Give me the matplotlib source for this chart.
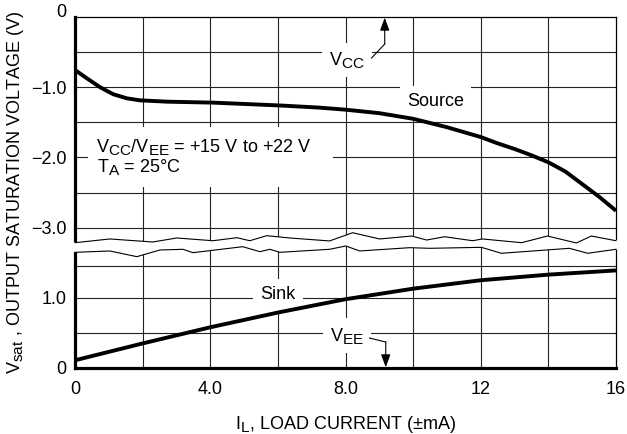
import numpy as np
import matplotlib.pyplot as plt
import matplotlib._mathtext as mathtext
from matplotlib.patches import Rectangle

# subscripts on the datasheet are almost full size
mathtext.SHRINK_FACTOR = 0.85

plt.rcParams['font.family'] = ['Liberation Sans', 'DejaVu Sans']
plt.rcParams['mathtext.fontset'] = 'custom'
plt.rcParams['mathtext.rm'] = 'Liberation Sans'
plt.rcParams['mathtext.it'] = 'Liberation Sans:italic'
plt.rcParams['mathtext.bf'] = 'Liberation Sans:bold'
plt.rcParams['font.size'] = 13

# source curve, volts referred to VCC (upper window)
i_source = [0, 0.35, 0.74, 1.13, 1.53, 1.92, 2.71, 4.09, 6.05, 7.2, 8.0, 9.0, 10.0, 11.0, 12.0,
            12.5, 13.0, 13.5, 14.0, 14.5, 15.0, 15.5, 16.0]
v_source = [-0.755, -0.873, -1.0, -1.10, -1.158, -1.187, -1.206, -1.22, -1.26, -1.29, -1.32, -1.37,
            -1.45, -1.57, -1.71, -1.80, -1.88, -1.97, -2.07, -2.20, -2.38, -2.56, -2.76]

# sink curve, volts referred to VEE (lower window)
i_sink = [0, 2.0, 4.0, 6.0, 8.0, 10.0, 12.0, 14.0, 16.0]
v_sink = [0.11, 0.35, 0.58, 0.79, 0.98, 1.13, 1.25, 1.33, 1.39]

# the lower window is drawn 5 V below the upper one on the same axes
shift = 5.0

x_ticks = [0, 4, 8, 12, 16]
x_labels = ['0', '4.0', '8.0', '12', '16']
y_ticks = [0, -1, -2, -3, 1 - shift, 0 - shift]
y_labels = ['0', '\u22121.0', '\u22122.0', '\u22123.0', '1.0', '0']

x_grid = [2, 4, 6, 8, 10, 12, 14]
top_grid = [-0.5, -1.0, -1.5, -2.0, -2.5, -3.0]
sink_grid = [0.5, 1.0, 1.45]

# hand drawn axis break (two jagged lines)
brk_top_i = [0, 1.03, 2.30, 3.01, 4.08, 4.79, 5.17, 5.67, 6.35, 7.53, 8.21, 9.01, 9.96, 10.40, 10.93, 11.76, 12.05, 13.21, 13.97, 14.83, 15.27, 16.0]
brk_top_v = [-3.215, -3.162, -3.205, -3.148, -3.187, -3.144, -3.187, -3.115, -3.148, -3.19, -3.073, -3.162, -3.12, -3.177, -3.13, -3.187, -3.162, -3.215, -3.12, -3.219, -3.12, -3.187]
brk_bot_i = [0, 1.03, 1.83, 2.51, 3.19, 3.49, 4.96, 5.47, 5.76, 6.06, 7.53, 8.01, 8.42, 9.90, 10.49, 12.02, 12.61, 14.62, 15.16, 16.0]
brk_bot_v = [-3.352, -3.333, -3.414, -3.319, -3.309, -3.357, -3.272, -3.343, -3.309, -3.352, -3.309, -3.262, -3.333, -3.286, -3.295, -3.281, -3.366, -3.295, -3.366, -3.309]

fig = plt.figure(figsize=(6.27, 4.34), dpi=100)
ax = fig.add_axes([75 / 627, 1 - 368 / 434, 541 / 627, 351 / 434])
ax.set_xlim(0, 16)
ax.set_ylim(-shift, 0)

gkw = dict(color='#222222', lw=0.8, zorder=1)
for x in x_grid:
    ax.axvline(x, **gkw)
for y in top_grid:
    ax.axhline(y, **gkw)
for y in sink_grid:
    ax.axhline(y - shift, **gkw)

for side in ['left', 'bottom']:
    ax.spines[side].set_linewidth(2.3)
for side in ['top', 'right']:
    ax.spines[side].set_linewidth(0.9)

ax.set_xticks(x_ticks)
ax.set_xticklabels(x_labels)
ax.set_yticks(y_ticks)
ax.set_yticklabels(y_labels)
ax.tick_params(length=0)
ax.tick_params(axis='x', pad=9)
ax.tick_params(axis='y', pad=6)
ax.get_yticklabels()[0].set_va('baseline')

ax.set_xlabel('I$_\\mathrm{L}$, LOAD CURRENT (\u00b1mA)', labelpad=12)
ax.set_ylabel('V$_\\mathrm{sat}$ , OUTPUT SATURATION VOLTAGE (V)', labelpad=4)

# white band between the break lines, covers grid and spines
px = [-0.15] + brk_top_i[1:-1] + [16.15] + [16.15] + brk_bot_i[-2:0:-1] + [-0.15]
py = [brk_top_v[0]] + brk_top_v[1:-1] + [brk_top_v[-1]] + [brk_bot_v[-1]] + brk_bot_v[-2:0:-1] + [brk_bot_v[0]]
ax.fill(px, py, color='white', zorder=3, clip_on=False, lw=0)
ax.plot(brk_top_i, brk_top_v, color='black', lw=0.8, zorder=4, clip_on=False)
ax.plot(brk_bot_i, brk_bot_v, color='black', lw=0.8, zorder=4, clip_on=False)

ax.plot(i_source, v_source, color='black', lw=2.8, solid_joinstyle='round', solid_capstyle='butt', zorder=5)
ax.plot(i_sink, np.array(v_sink) - shift, color='black', lw=2.8, solid_joinstyle='round',
        solid_capstyle='butt', zorder=5)

box = dict(boxstyle='square,pad=0.4', facecolor='white', edgecolor='none')
ax.text(10.66, -1.21, 'Source', ha='center', va='center', bbox=box, zorder=4)
ax.text(6.0, -3.96, 'Sink', ha='center', va='center', bbox=box, zorder=4)
ax.text(8.04, -0.61, 'V$_\\mathrm{CC}$', ha='center', va='center', bbox=box, zorder=4)
ax.text(8.04, -4.54, 'V$_\\mathrm{EE}$', ha='center', va='center', bbox=box, zorder=4)

# leaders to the supply rails
ax.plot([8.77, 9.16], [-0.584, -0.385], color='black', lw=0.8, zorder=4)
ax.annotate('', xy=(9.16, -0.01), xytext=(9.16, -0.385),
            arrowprops=dict(arrowstyle='-|>,head_length=0.6,head_width=0.22',
                            color='black', lw=0.8, shrinkA=0, shrinkB=0), zorder=4)
ax.plot([8.71, 9.19], [-4.573, -4.63], color='black', lw=0.8, zorder=4)
ax.annotate('', xy=(9.19, -4.99), xytext=(9.19, -4.63),
            arrowprops=dict(arrowstyle='-|>,head_length=0.6,head_width=0.22',
                            color='black', lw=0.8, shrinkA=0, shrinkB=0), zorder=4)

# test conditions
ax.add_patch(Rectangle((0.38, -2.42), 7.24, 0.853, facecolor='white', edgecolor='none', zorder=3))
ax.text(0.62, -1.93, 'V$_\\mathrm{CC}$/V$_\\mathrm{EE}$ = +15 V to +22 V', va='baseline', zorder=4)
ax.text(0.66, -2.21, 'T$_\\mathrm{A}$ = 25\u00b0C', va='baseline', zorder=4)

fig.savefig('out.png', dpi=100)
